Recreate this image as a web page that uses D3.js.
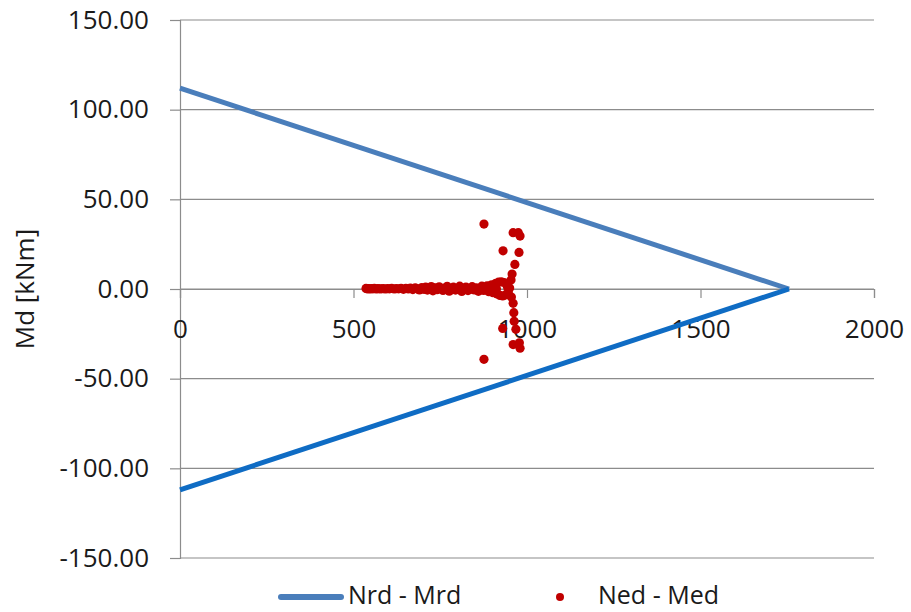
<!DOCTYPE html>
<html>
<head>
<meta charset="utf-8">
<script src="https://cdn.jsdelivr.net/npm/d3@7/dist/d3.min.js"></script>
<style>
  html, body { margin: 0; padding: 0; background: #fff; }
  svg { display: block; font-family: "Open Sans", "Noto Sans", sans-serif; }
</style>
</head>
<body>
<svg id="chart" width="911" height="612"></svg>
<script>
// Capacity envelope (Nrd - Mrd): upper and lower branches
const nrdUpper = [0, 1755];
const mrdUpper = [112, 0];
const nrdLower = [1755, 0];
const mrdLower = [0, -112];

// Design actions (Ned - Med)
const ned = [
  536, 539, 543, 547, 551, 556, 560, 565, 570, 575, 580, 586, 592, 598, 604, 610,
  617, 623, 630, 637, 644, 651, 658, 664, 671, 678, 684, 690, 697,
  703, 708, 713, 719, 724, 729, 735, 741, 747, 752, 758, 763,
  770, 776, 782, 788, 794, 800, 806, 812, 818, 824, 830, 836, 842, 848, 854, 860,
  865, 870, 875, 880, 885, 890, 894, 898, 902, 906, 910, 914, 918, 922, 926, 930,
  934, 938, 942, 946, 950, 944, 912,
  957, 960, 954, 955, 965, 962, 977, 931, 930, 960, 975, 980, 963, 968, 960, 978, 980,
  876, 876
];
const med = [
  0.3, 0.1, 0.2, 0.0, 0.2, 0.1, 0.3, 0.0, 0.2, 0.1, 0.1, 0.2, 0.0, 0.2, 0.1, 0.3,
  0.0, 0.2, 0.1, 0.4, -0.2, 0.3, 0.0, 0.5, -0.3, 0.6, 0.1, -0.5, 0.8,
  -0.2, 1.0, -0.6, 0.3, 1.4, -1.0, 0.6, -0.4, 1.2, 0.2, -0.8, 0.5,
  1.5, -1.2, 0.3, 1.0, -0.6, 0.2, 1.6, -1.4, 0.4, 1.1, -0.9, 0.0, 1.3, -0.5, 0.7, -1.3,
  0.4, 1.6, -0.8, 0.2, 1.8, -1.5, 0.6, 2.3, -2.1, 0.1, 3.2, -2.8, 3.8, -3.6, 4.0, -3.9,
  3.6, -3.3, 2.5, -2.0, 0.5, 1.0, 0.0,
  8.3, -8.0, 5.0, -4.5, 13.7, -13.2, 20.4, 21.3, -22.0, 31.4, 31.4, 29.5, -18.0, -22.5, -31.0, -30.0, -33.0,
  36.2, -39.2
];

const xTicks = [0, 500, 1000, 1500, 2000];
const yTicks = [-150, -100, -50, 0, 50, 100, 150];

const svg = d3.select("#chart");
const x = d3.scaleLinear().domain([0, 2000]).range([180, 874]);
const y = d3.scaleLinear().domain([-150, 150]).range([558, 20]);

const axisColor = "#8c8c8c";
const textColor = "#1a1a1a";
const fontSize = 26;

// horizontal gridlines
svg.append("g").selectAll("line").data(yTicks).join("line")
  .attr("x1", x(0)).attr("x2", x(2000))
  .attr("y1", d => y(d)).attr("y2", d => y(d))
  .attr("stroke", axisColor).attr("stroke-width", 1.2);

// y axis
const yAxis = d3.axisLeft(y).tickValues(yTicks).tickSize(10).tickPadding(21)
  .tickFormat(d => d.toFixed(2));
const gy = svg.append("g").attr("transform", `translate(${x(0)},0)`).call(yAxis);
gy.select(".domain").attr("stroke", axisColor).attr("stroke-width", 1.2);
gy.selectAll(".tick line").attr("stroke", axisColor).attr("stroke-width", 1.2);
gy.selectAll(".tick text").attr("font-size", fontSize).attr("fill", textColor)
  .attr("font-family", "'Open Sans', sans-serif");

// x axis at y = 0
const xAxis = d3.axisBottom(x).tickValues(xTicks).tickSize(9).tickPadding(22)
  .tickFormat(d3.format("d"));
const gx = svg.append("g").attr("transform", `translate(0,${y(0)})`).call(xAxis);
gx.select(".domain").attr("stroke", axisColor).attr("stroke-width", 1.2);
gx.selectAll(".tick line").attr("stroke", axisColor).attr("stroke-width", 1.2);
gx.selectAll(".tick text").attr("font-size", fontSize).attr("fill", textColor)
  .attr("font-family", "'Open Sans', sans-serif");

// y axis title
svg.append("text")
  .attr("transform", `translate(34,${y(0)}) rotate(-90)`)
  .attr("text-anchor", "middle")
  .attr("font-size", fontSize).attr("fill", textColor)
  .text("Md [kNm]");

// envelope lines
const line = d3.line().x(d => x(d[0])).y(d => y(d[1]));
svg.append("path")
  .datum(nrdUpper.map((n, i) => [n, mrdUpper[i]]))
  .attr("fill", "none").attr("stroke", "#4a7ebb").attr("stroke-width", 5)
  .attr("stroke-linejoin", "round").attr("d", line);
svg.append("path")
  .datum(nrdLower.map((n, i) => [n, mrdLower[i]]))
  .attr("fill", "none").attr("stroke", "#0f6cc4").attr("stroke-width", 5)
  .attr("stroke-linejoin", "round").attr("d", line);

// scatter points
const pts = ned.map((n, i) => [n, med[i]]);
svg.append("g").selectAll("circle").data(pts).join("circle")
  .attr("cx", d => x(d[0])).attr("cy", d => y(d[1]))
  .attr("r", 4.6).attr("fill", "#c00000");

// legend
const lg = svg.append("g");
lg.append("line").attr("x1", 281).attr("x2", 341).attr("y1", 597).attr("y2", 597)
  .attr("stroke", "#4a7ebb").attr("stroke-width", 6).attr("stroke-linecap", "round");
lg.append("text").attr("x", 348).attr("y", 604).attr("font-size", 25)
  .attr("fill", textColor).text("Nrd - Mrd");
lg.append("circle").attr("cx", 560).attr("cy", 597).attr("r", 4).attr("fill", "#c00000");
lg.append("text").attr("x", 598).attr("y", 604).attr("font-size", 25)
  .attr("fill", textColor).text("Ned - Med");
</script>
</body>
</html>
